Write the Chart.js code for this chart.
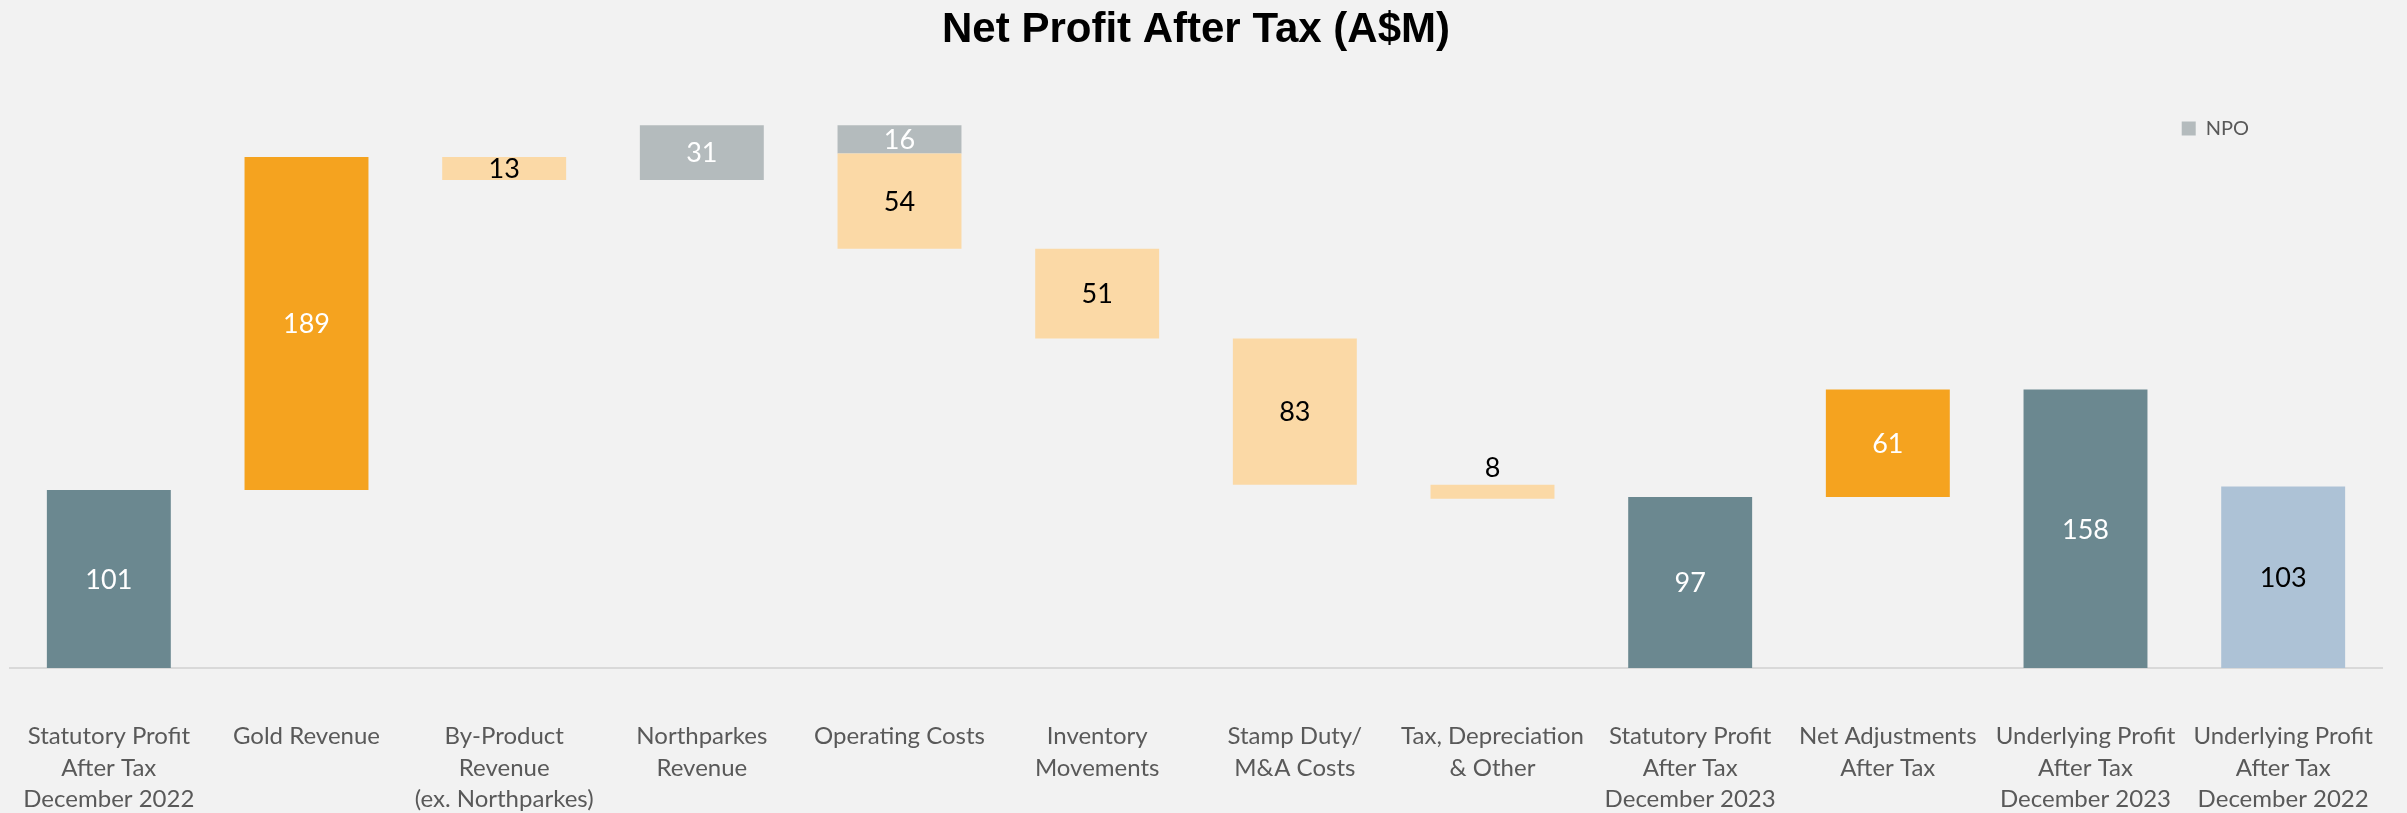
<!DOCTYPE html>
<html>
<head>
<meta charset="utf-8">
<title>Net Profit After Tax (A$M)</title>
<script src="https://cdn.jsdelivr.net/npm/chart.js@4.4.1/dist/chart.umd.min.js"></script>
<style>
  html, body { margin: 0; padding: 0; background: #f2f2f2; overflow: hidden; }
  #wrap { width: 2407px; height: 813px; position: relative; }
</style>
</head>
<body>
<div id="wrap"><canvas id="waterfall"></canvas></div>
<script>
// categories (multi-line axis labels)
const categories = [
  ['Statutory Profit', 'After Tax', 'December 2022'],
  ['Gold Revenue'],
  ['By-Product', 'Revenue', '(ex. Northparkes)'],
  ['Northparkes', 'Revenue'],
  ['Operating Costs'],
  ['Inventory', 'Movements'],
  ['Stamp Duty/', 'M&A Costs'],
  ['Tax, Depreciation', '& Other'],
  ['Statutory Profit', 'After Tax', 'December 2023'],
  ['Net Adjustments', 'After Tax'],
  ['Underlying Profit', 'After Tax', 'December 2023'],
  ['Underlying Profit', 'After Tax', 'December 2022']
]

// main waterfall bars: start / end level and the value shown on the bar
const barStart = [0, 101, 277, null, 238, 187, 104, 96, 0, 97, 0, 0]
const barEnd = [101, 290, 290, null, 292, 238, 187, 104, 97, 158, 158, 103]
const barValue = [101, 189, 13, null, 54, 51, 83, 8, 97, 61, 158, 103]

// NPO (Northparkes) pieces
const npoStart = [null, null, null, 277, 292, null, null, null, null, null, null, null]
const npoEnd = [null, null, null, 308, 308, null, null, null, null, null, null, null]
const npoValue = [null, null, null, 31, 16, null, null, null, null, null, null, null]

const SLATE = '#6b8890'
const ORANGE = '#f5a31f'
const PEACH = '#fbd9a6'
const GREY = '#b4bbbd'
const BLUE = '#adc2d6'

const barColors = [SLATE, ORANGE, PEACH, PEACH, PEACH, PEACH, PEACH, PEACH, SLATE, ORANGE, SLATE, BLUE]
const barLabelColors = ['#fff', '#fff', '#000', '#000', '#000', '#000', '#000', '#000', '#fff', '#fff', '#fff', '#000']

const pairs = (a, b) => a.map((v, i) => (v === null ? null : [v, b[i]]))

// writes the values on (or just above) each bar
const barLabels = {
  id: 'barLabels',
  afterDatasetsDraw(chart) {
    const ctx = chart.ctx
    ctx.save()
    ctx.font = '27px Lato'
    ctx.textAlign = 'center'
    ctx.textBaseline = 'middle'
    chart.data.datasets.forEach((ds, di) => {
      const meta = chart.getDatasetMeta(di)
      meta.data.forEach((bar, i) => {
        const v = ds.shownValues[i]
        if (v === null || v === undefined) return
        const p = bar.getProps(['x', 'y', 'base'], true)
        const top = Math.min(p.y, p.base)
        const h = Math.abs(p.base - p.y)
        let y = (p.y + p.base) / 2
        let color = ds.labelColors[i]
        if (h < 18) {
          y = top - 17
          color = '#000'
        }
        ctx.fillStyle = color
        ctx.fillText(String(v), p.x, y + 1)
      })
    })
    ctx.restore()
  }
}

const ctx = document.getElementById('waterfall')
const chart = new Chart(ctx, {
  type: 'bar',
  data: {
    labels: categories,
    datasets: [
      {
        label: 'Movement',
        data: pairs(barStart, barEnd),
        backgroundColor: barColors,
        shownValues: barValue,
        labelColors: barLabelColors,
        categoryPercentage: 1,
        barPercentage: 0.627,
        borderWidth: 0,
        clip: false
      },
      {
        label: 'NPO',
        data: pairs(npoStart, npoEnd),
        backgroundColor: GREY,
        shownValues: npoValue,
        labelColors: npoValue.map(() => '#fff'),
        categoryPercentage: 1,
        barPercentage: 0.627,
        borderWidth: 0,
        clip: false
      }
    ]
  },
  options: {
    responsive: true,
    maintainAspectRatio: false,
    animation: false,
    layout: { padding: { left: 10, right: 25, top: 0, bottom: 0 } },
    plugins: {
      title: {
        display: true,
        text: 'Net Profit After Tax (A$M)',
        color: '#000',
        fullSize: false,
        font: { family: 'Liberation Sans', size: 42, weight: 'bold', lineHeight: 1.2 },
        padding: { top: 5, bottom: 0 }
      },
      legend: {
        display: true,
        position: 'top',
        align: 'end',
        maxHeight: 84,
        labels: {
          color: '#595959',
          font: { family: 'Lato', size: 20 },
          boxWidth: 14,
          boxHeight: 14,
          padding: 63,
          generateLabels(chart) {
            const items = Chart.defaults.plugins.legend.labels.generateLabels(chart)
              .filter((it) => it.text === 'NPO')
            items.forEach((it) => {
              it.text = it.text + '\u2002'.repeat(7)
              it.lineWidth = 0
              it.strokeStyle = 'transparent'
            })
            return items
          }
        }
      },
      tooltip: { enabled: false }
    },
    scales: {
      x: {
        stacked: true,
        offset: true,
        grid: {
          display: true,
          drawOnChartArea: false,
          drawTicks: true,
          tickLength: 53,
          color: 'transparent'
        },
        border: { display: true, color: '#d9d9d9', width: 2 },
        ticks: {
          color: '#595959',
          font: { family: 'Lato', size: 24, lineHeight: 1.3125 },
          padding: 0,
          autoSkip: false,
          maxRotation: 0
        },
        afterFit(scale) { scale.height = 145 }
      },
      y: {
        display: false,
        stacked: false,
        min: 0,
        max: 300
      }
    }
  },
  plugins: [barLabels]
})
</script>
</body>
</html>
